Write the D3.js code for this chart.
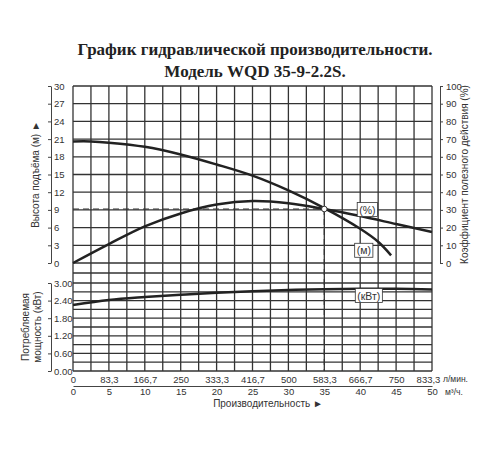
<!DOCTYPE html>
<html lang="ru">
<head>
<meta charset="UTF-8">
<style>
  body { margin: 0; background: #fff; }
  text { font-family: "Liberation Sans", Arial, sans-serif; fill: #333; }
  .grid line { stroke: #333; stroke-width: 1.3; }
  .curve { fill: none; stroke: #222; stroke-width: 2.5; }
</style>
</head>
<body>
<svg id="chart" width="500" height="450"></svg>
<script src="https://cdn.jsdelivr.net/npm/d3@7/dist/d3.min.js"></script>
<script>
// flow, m3/h
let headQ = [0, 2.5, 5, 10, 15, 20, 25, 30, 35, 40, 42.5, 44.3]
let headM = [20.6, 20.6, 20.4, 19.7, 18.4, 16.7, 14.8, 12.3, 9.3, 5.8, 3.6, 1.3]
let effQ = [0, 5, 10, 15, 20, 25, 30, 35, 40, 45, 50]
let effPct = [0, 10.7, 20.7, 28, 33, 35, 33.8, 30.5, 26.5, 22, 17.5]
let powQ = [0, 5, 10, 15, 20, 25, 30, 35, 40, 45, 50]
let powKw = [2.25, 2.42, 2.52, 2.6, 2.67, 2.72, 2.76, 2.79, 2.8, 2.8, 2.78]
let lminTicks = ["0", "83,3", "166,7", "250", "333,3", "416,7", "500", "583,3", "666,7", "750", "833,3"]
let m3Ticks = [0, 5, 10, 15, 20, 25, 30, 35, 40, 45, 50]
let headTicks = [0, 3, 6, 9, 12, 15, 18, 21, 24, 27, 30]
let effTicks = [0, 10, 20, 30, 40, 50, 60, 70, 80, 90, 100]
let powTicks = [0, 0.6, 1.2, 1.8, 2.4, 3.0]
let dutyQ = 35, dutyH = 9.15

let svg = d3.select("#chart")
let x = d3.scaleLinear().domain([0, 50]).range([73, 432])
let yH = d3.scaleLinear().domain([0, 30]).range([263, 86])
let yE = d3.scaleLinear().domain([0, 100]).range([263, 86])
let yP = d3.scaleLinear().domain([0, 3]).range([371, 283])

// title
svg.append("text").attr("x", 255).attr("y", 55).attr("text-anchor", "middle")
  .style("font-family", "Liberation Serif").style("font-weight", "bold").style("font-size", "17px")
  .style("fill", "#222").text("График гидравлической производительности.")
svg.append("text").attr("x", 255).attr("y", 77).attr("text-anchor", "middle")
  .style("font-family", "Liberation Serif").style("font-weight", "bold").style("font-size", "17px")
  .style("fill", "#222").text("Модель WQD 35-9-2.2S.")

// grid
let grid = svg.append("g").attr("class", "grid")
grid.selectAll(".v").data(d3.range(0, 50.01, 2.5)).join("line")
  .attr("x1", d => x(d)).attr("x2", d => x(d)).attr("y1", yH(30)).attr("y2", yP(0))
grid.selectAll(".h1").data(headTicks).join("line").attr("class", "h1")
  .attr("x1", x(0)).attr("x2", x(50)).attr("y1", d => yH(d)).attr("y2", d => yH(d))
grid.selectAll(".h2").data(d3.range(0, 3.01, 0.3)).join("line").attr("class", "h2")
  .attr("x1", x(0)).attr("x2", x(50)).attr("y1", d => yP(d)).attr("y2", d => yP(d))
grid.append("line").attr("x1", x(0)).attr("x2", x(50)).attr("y1", 273).attr("y2", 273)

// axes
function sideAxis(axis, xpos, scale, ticks, fmt) {
  let g = svg.append("g").attr("transform", `translate(${xpos},0)`)
    .call(axis(scale).tickValues(ticks).tickFormat(fmt).tickSize(3).tickSizeOuter(0))
  g.select(".domain").attr("stroke", "#444")
  g.selectAll(".tick line").attr("stroke", "#444")
  g.selectAll("text").style("font-size", "9.5px").attr("fill", "#333")
  return g
}
let lh = sideAxis(d3.axisLeft, 51, yH, headTicks, d3.format("d"))
lh.selectAll("text").attr("text-anchor", "start").attr("x", 3)
let lp = sideAxis(d3.axisLeft, 51, yP, powTicks, d3.format(".2f"))
lp.selectAll("text").attr("text-anchor", "start").attr("x", 3)
sideAxis(d3.axisRight, 440, yE, effTicks, d3.format("d"))

// bottom labels
let b1 = svg.append("g").attr("transform", `translate(0,${yP(0)})`)
  .call(d3.axisBottom(x).tickValues(m3Ticks).tickFormat((d, i) => lminTicks[i]).tickSize(0))
b1.select(".domain").remove()
b1.selectAll("text").attr("dy", "0.95em").style("font-size", "9.5px").attr("fill", "#333")
b1.selectAll(".tick").filter(d => d === 50).select("text").attr("dx", "-4")
let b2 = svg.append("g").attr("transform", `translate(0,386)`)
  .call(d3.axisBottom(x).tickValues(m3Ticks).tickFormat(d3.format("d")).tickSize(0).tickSizeOuter(0))
b2.select(".domain").attr("stroke", "#444")
b2.selectAll("text").attr("dy", "0.6em").style("font-size", "9.5px").attr("fill", "#333")
svg.append("text").attr("x", 443).attr("y", 382).style("font-size", "8.5px").text("л/мин.")
svg.append("text").attr("x", 445).attr("y", 395).style("font-size", "8.5px").text("м³/ч.")
svg.append("text").attr("x", 268).attr("y", 407).attr("text-anchor", "middle")
  .style("font-size", "10px").text("Производительность ►")

// axis titles
svg.append("text").attr("transform", `translate(39,${yH(15)}) rotate(-90)`).attr("text-anchor", "middle")
  .style("font-size", "10px").text("Высота подъёма (м) ►")
svg.append("text").attr("transform", `translate(468,${yE(50)}) rotate(-90)`).attr("text-anchor", "middle")
  .style("font-size", "10px").text("Коэффициент полезного действия (%)")
svg.append("text").attr("transform", `translate(29,${yP(1.5)}) rotate(-90)`).attr("text-anchor", "middle")
  .style("font-size", "10px").text("Потребляемая")
svg.append("text").attr("transform", `translate(41,${yP(1.5)}) rotate(-90)`).attr("text-anchor", "middle")
  .style("font-size", "10px").text("мощность (кВт)")

// duty point guides
svg.append("line").attr("x1", x(0)).attr("x2", x(dutyQ)).attr("y1", yH(dutyH)).attr("y2", yH(dutyH))
  .attr("stroke", "#333").attr("stroke-width", 1.2).attr("stroke-dasharray", "6,4")
svg.append("line").attr("x1", x(dutyQ)).attr("x2", x(dutyQ)).attr("y1", yH(dutyH)).attr("y2", yP(0))
  .attr("stroke", "#333").attr("stroke-width", 1.2).attr("stroke-dasharray", "6,4")

// curves
let line = (xs, ys, ys2) => d3.line().curve(d3.curveCatmullRom)
  .x((d, i) => x(xs[i])).y(d => ys2(d))(ys)
svg.append("path").attr("class", "curve").attr("d", line(headQ, headM, yH))
svg.append("path").attr("class", "curve").attr("d", line(effQ, effPct, yE))
svg.append("path").attr("class", "curve").attr("d", line(powQ, powKw, yP))

svg.append("circle").attr("cx", x(dutyQ)).attr("cy", yH(dutyH)).attr("r", 2.8)
  .attr("fill", "#fff").attr("stroke", "#333").attr("stroke-width", 1)

// curve tags
function tag(cx, cy, label) {
  let t = svg.append("text").attr("x", cx).attr("y", cy).attr("text-anchor", "middle")
    .attr("dy", "0.35em").style("font-size", "10.5px").text(label)
  let bb = t.node().getBBox()
  svg.insert("rect", () => t.node()).attr("x", bb.x - 2).attr("y", bb.y - 1)
    .attr("width", bb.width + 4).attr("height", bb.height + 2)
    .attr("fill", "#fff").attr("stroke", "#333").attr("stroke-width", 0.8)
}
tag(x(41), yE(30), "(%)")
tag(x(40.5), yH(2.1), "(м)")
tag(x(41.2), yP(2.56), "(кВт)")
</script>
</body>
</html>
